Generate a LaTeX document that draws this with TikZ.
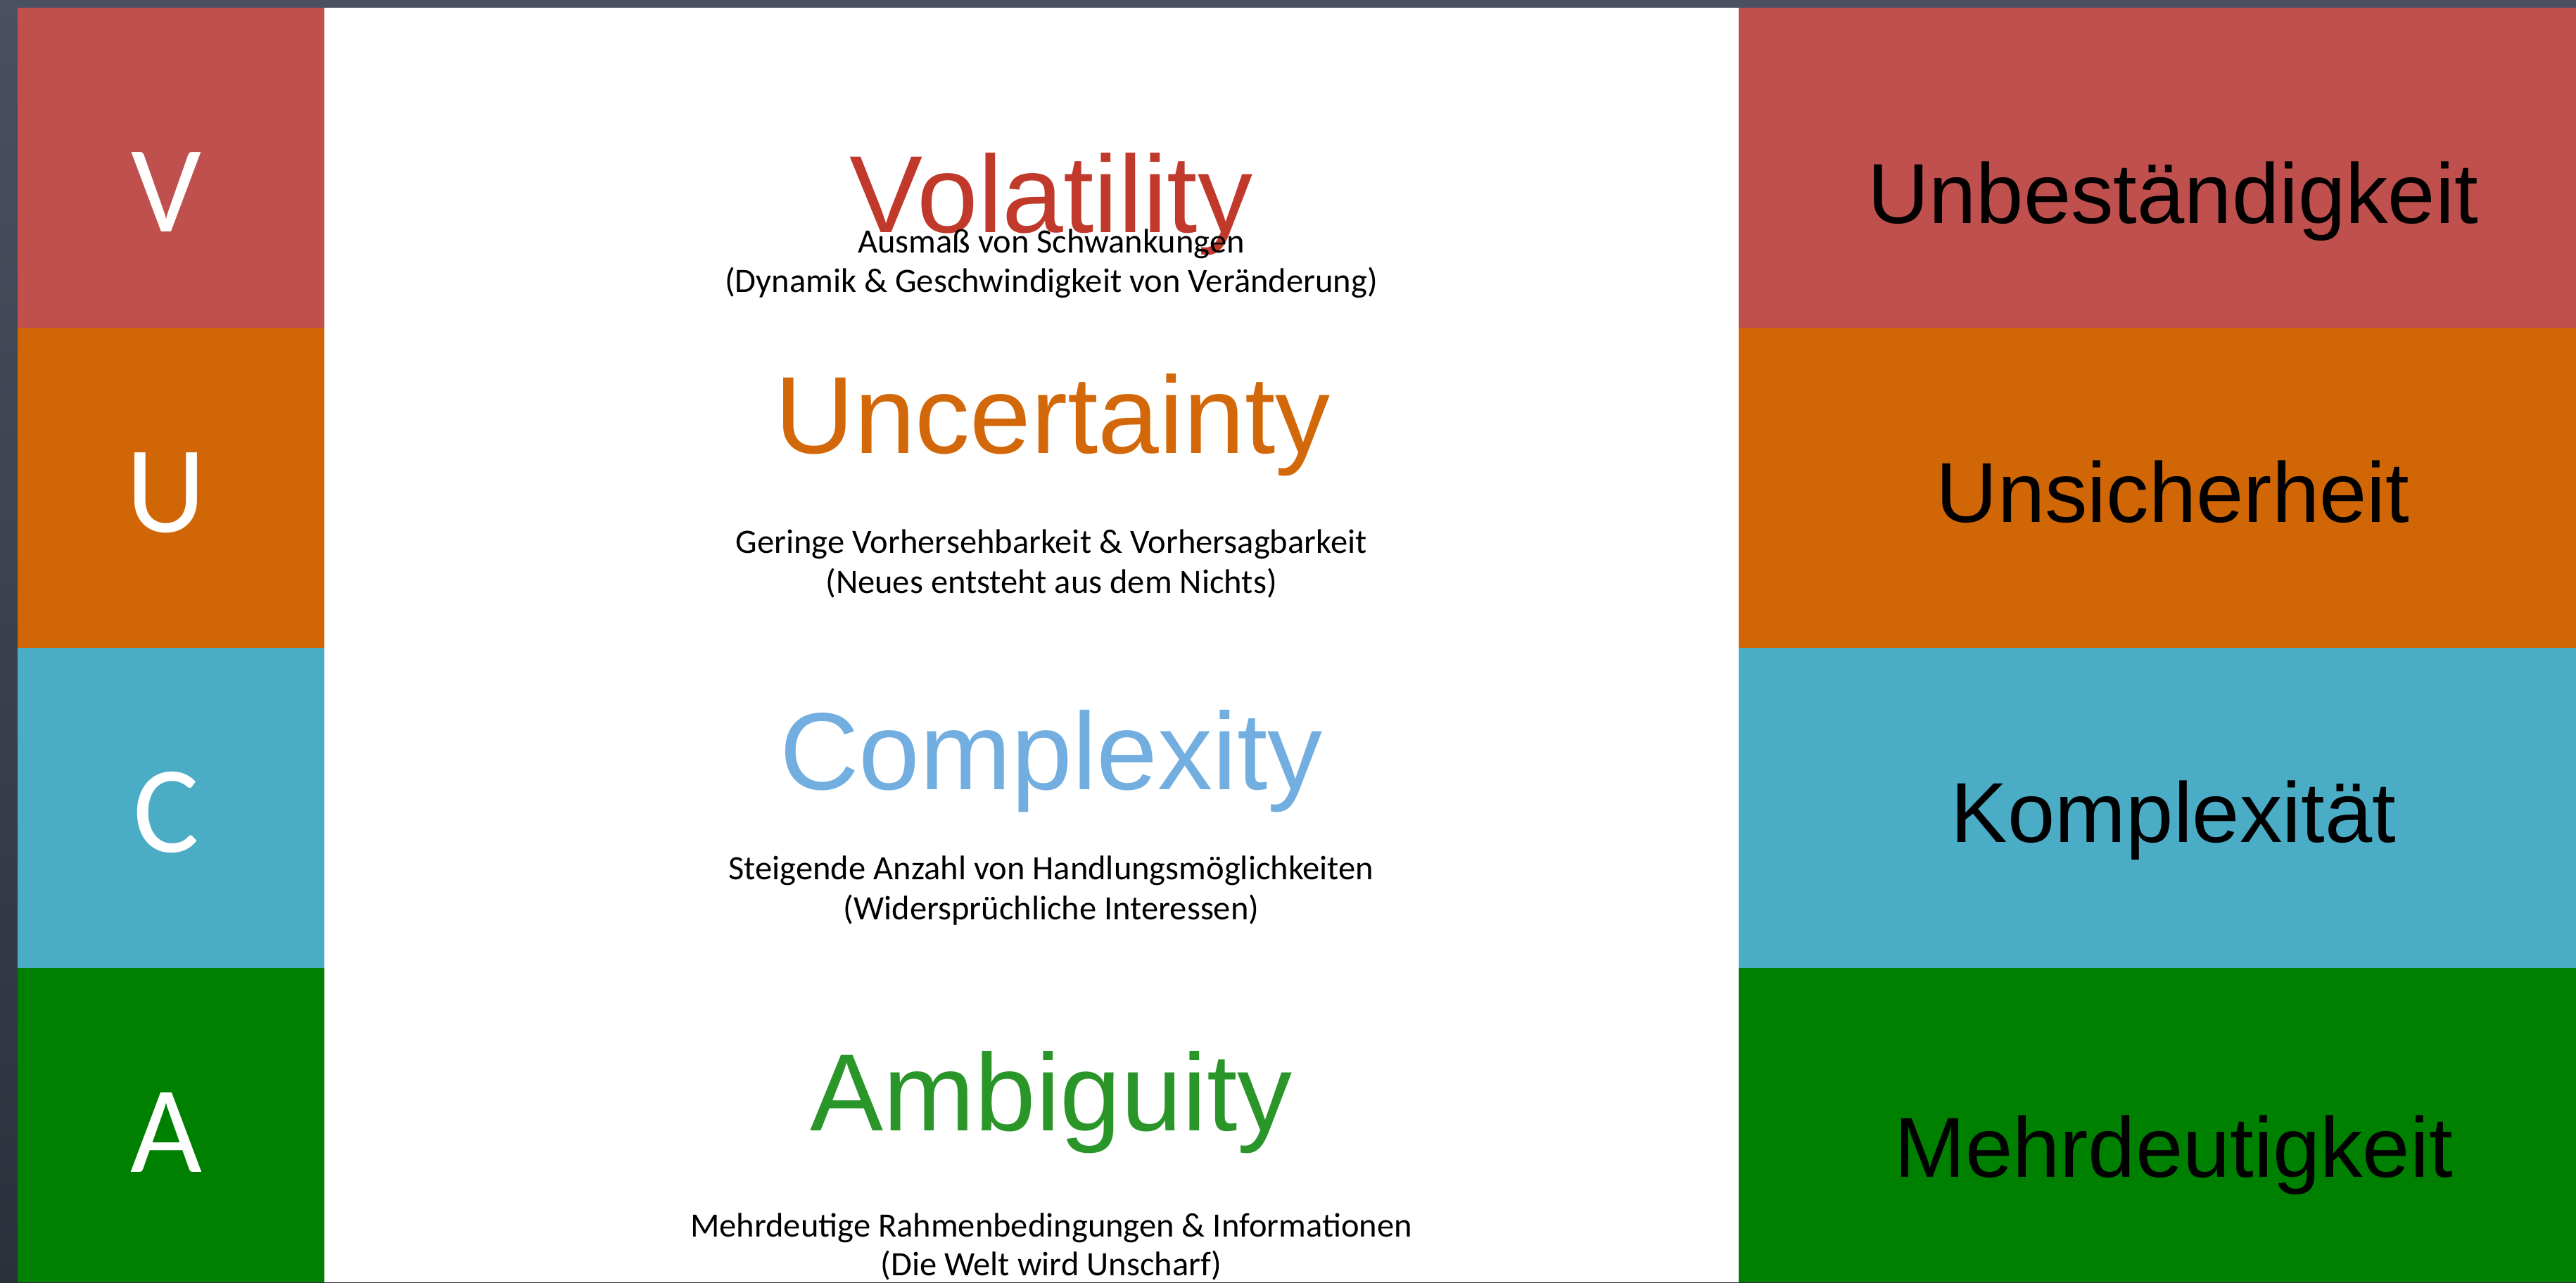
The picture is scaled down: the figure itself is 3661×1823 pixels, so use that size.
\documentclass[tikz,border=0pt]{standalone}
\usepackage{fontspec}
\setmainfont{Carlito}
\newfontfamily\arialfont{Liberation Sans}
\newfontfamily\calfont{Carlito}

\definecolor{slatetop}{HTML}{4B5061}
\definecolor{slatebot}{HTML}{2C303B}
\definecolor{bandV}{HTML}{C0504D}
\definecolor{bandU}{HTML}{D16606}
\definecolor{bandC}{HTML}{4BACC6}
\definecolor{bandA}{HTML}{008000}
\definecolor{titleV}{HTML}{C0392B}
\definecolor{titleU}{HTML}{D3680A}
\definecolor{titleC}{HTML}{72AFE0}
\definecolor{titleA}{HTML}{2A962A}

\tikzset{
  letter/.style={anchor=base, inner sep=0pt, text=white,
    font=\calfont\fontsize{17.6pt}{21pt}\selectfont},
  title/.style={anchor=base, inner sep=0pt,
    font=\arialfont\fontsize{15.6pt}{18pt}\selectfont},
  german/.style={anchor=base, inner sep=0pt, text=black,
    font=\arialfont\fontsize{12.1pt}{14pt}\selectfont},
  subline/.style={anchor=base, inner sep=0pt, text=black,
    font=\calfont\fontsize{4.85pt}{5.8pt}\selectfont},
}

\begin{document}
\begin{tikzpicture}[x=0.1pt, y=-0.1pt]
  \useasboundingbox (0,0) rectangle (3661,1823);

  % slate backdrop
  \shade[top color=slatetop, bottom color=slatebot] (0,0) rectangle (3661,1823);

  % white middle panel
  \fill[white] (461,11) rectangle (2471,1823);

  % coloured bands, left and right
  \fill[bandV] (25,11)   rectangle (461,466);
  \fill[bandU] (25,466)  rectangle (461,921);
  \fill[bandC] (25,921)  rectangle (461,1376);
  \fill[bandA] (25,1376) rectangle (461,1823);
  \fill[bandV] (2471,11)   rectangle (3661,466);
  \fill[bandU] (2471,466)  rectangle (3661,921);
  \fill[bandC] (2471,921)  rectangle (3661,1376);
  \fill[bandA] (2471,1376) rectangle (3661,1823);

  % initials
  \node[letter] (lV) at (236,329)  {V};
  \node[letter] (lU) at (236,756)  {U};
  \node[letter] (lC) at (236,1211) {C};
  \node[letter] (lA) at (236,1666) {A};

  % English terms
  \node[title, text=titleV] (tV) at (1494,330)  {Volatility};
  \node[title, text=titleU] (tU) at (1496,644)  {Uncertainty};
  \node[title, text=titleC] (tC) at (1494,1122) {Complexity};
  \node[title, text=titleA] (tA) at (1494,1607) {Ambiguity};

  % descriptions
  \node[subline] (dV1) at (1494,359)  {Ausmaß von Schwankungen};
  \node[subline] (dV2) at (1494,415)  {(Dynamik \& Geschwindigkeit von Veränderung)};
  \node[subline] (dU1) at (1494,786)  {Geringe Vorhersehbarkeit \& Vorhersagbarkeit};
  \node[subline] (dU2) at (1494,843)  {(Neues entsteht aus dem Nichts)};
  \node[subline] (dC1) at (1494,1250) {Steigende Anzahl von Handlungsmöglichkeiten};
  \node[subline] (dC2) at (1494,1307) {(Widersprüchliche Interessen)};
  \node[subline] (dA1) at (1494,1758) {Mehrdeutige Rahmenbedingungen \& Informationen};
  \node[subline] (dA2) at (1494,1813) {(Die Welt wird Unscharf)};

  % German terms
  \node[german] (gV) at (3088,317)  {Unbeständigkeit};
  \node[german] (gU) at (3088,742)  {Unsicherheit};
  \node[german] (gC) at (3089,1197) {Komplexität};
  \node[german] (gA) at (3089,1673) {Mehrdeutigkeit};
\end{tikzpicture}
\end{document}
